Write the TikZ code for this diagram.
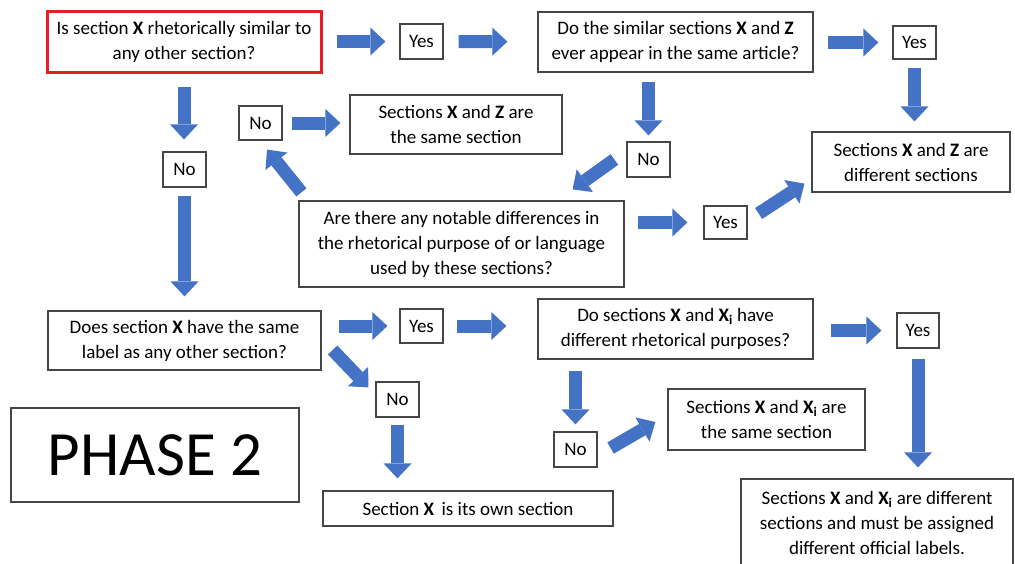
\documentclass[tikz,border=0pt]{standalone}
\usepackage{fontspec}
\setmainfont{Carlito}
\usetikzlibrary{arrows.meta,calc}
\definecolor{arrowblue}{RGB}{68,114,196}
\definecolor{boxred}{RGB}{232,30,36}
\definecolor{boxgray}{RGB}{70,70,70}
\tikzset{
  box/.style={draw=boxgray, line width=1.2pt, fill=white, inner sep=0pt, align=center,
    font=\fontsize{19}{25}\selectfont},
  barrow/.style={arrowblue, line width=13pt,
    -{Triangle[width=28pt,length=15pt,line width=0pt]}},
}
\newcommand{\B}[1]{\textbf{#1}}
\newcommand{\XXi}{\textbf{X\textsubscript{i}}}
\begin{document}
\begin{tikzpicture}[x=1pt,y=-1pt]
\clip (0,0) rectangle (1015,563);
\fill[white] (0,0) rectangle (1015,563);
% nodes
\node[box, draw=boxred, line width=3pt, minimum width=274pt, minimum height=61pt] (red) at (184,41.5)
  {Is section \B{X} rhetorically similar to\\any other section?};
\node[box, minimum width=43pt, minimum height=35pt] (yes1) at (421.5,41.5) {Yes};
\node[box, minimum width=275pt, minimum height=60pt] (box2) at (675.5,42)
  {Do the similar sections \B{X} and \B{Z}\\ever appear in the same article?};
\node[box, minimum width=43pt, minimum height=33pt] (yes2) at (914.5,42.5) {Yes};
\node[box, minimum width=198pt, minimum height=60pt] (diffZ) at (911,162)
  {Sections \B{X} and \B{Z} are\\different sections};
\node[box, minimum width=43pt, minimum height=35pt] (nom) at (648.5,159.5) {No};
\node[box, minimum width=325pt, minimum height=86pt] (are) at (461.5,244)
  {Are there any notable differences in\\the rhetorical purpose of or language\\used by these sections?};
\node[box, minimum width=43pt, minimum height=33pt] (yes3) at (725.5,222.5) {Yes};
\node[box, minimum width=43pt, minimum height=34pt] (nou) at (260.5,123) {No};
\node[box, minimum width=212pt, minimum height=59pt] (sameZ) at (456,124.5)
  {Sections \B{X} and \B{Z} are\\the same section};
\node[box, minimum width=43pt, minimum height=35pt] (nol) at (184.5,169.5) {No};
\node[box, minimum width=273pt, minimum height=59pt] (does) at (184.5,340.5)
  {Does section \B{X} have the same\\label as any other section?};
\node[box, minimum width=43pt, minimum height=34pt] (yes4) at (421.5,326) {Yes};
\node[box, minimum width=275pt, minimum height=60pt] (xi) at (675.5,329)
  {Do sections \B{X} and \XXi{} have\\different rhetorical purposes?};
\node[box, minimum width=42pt, minimum height=35pt] (yes5) at (918,330.5) {Yes};
\node[box, minimum width=272pt, minimum height=87pt] (diffXi) at (877,522.5)
  {Sections \B{X} and \XXi{} are different\\sections and must be assigned\\different official labels.};
\node[box, minimum width=43pt, minimum height=35pt] (nob) at (575.5,449.5) {No};
\node[box, minimum width=197pt, minimum height=61pt] (sameXi) at (766.5,419.5)
  {Sections \B{X} and \XXi{} are\\the same section};
\node[box, minimum width=43pt, minimum height=35pt] (nod) at (397.5,399.5) {No};
\node[box, minimum width=290pt, minimum height=35pt] (own) at (468,508.5)
  {Section \B{X}\, is its own section};
\node[box, minimum width=288pt, minimum height=94pt, font=\fontsize{63}{70}\selectfont] (phase) at (155,455)
  {PHASE 2};
% arrows
\draw[barrow, shorten <=14pt, shorten >=14pt] (red) -- (yes1);
\draw[barrow, shorten <=15pt, shorten >=30pt] (yes1) -- (box2);
\draw[barrow, shorten <=14pt, shorten >=14pt] (box2.east |- yes2) -- (yes2);
\draw[barrow, shorten <=8pt, shorten >=10pt] (yes2.south) -- (yes2.south |- diffZ.north);
\draw[barrow, shorten <=9pt, shorten >=6pt] (box2.south -| nom) -- (nom.north);
\draw[barrow] ($(nom.west)+(-12,0)$) -- ($(are.north east)+(-52,-11)$);
\draw[barrow, shorten <=13pt, shorten >=16pt] (are.east |- yes3) -- (yes3.west);
\draw[barrow] ($(yes3.east)+(11,-9)$) -- ($(diffZ.south west)+(-7,-9)$);
\draw[barrow] ($(are.north west)+(3,-8)$) -- ($(nou.south)+(6.5,9)$);
\draw[barrow, shorten <=9pt, shorten >=9pt] (nou) -- (nou -| sameZ.west);
\draw[barrow, shorten <=13pt, shorten >=12pt] (red.south) -- (red.south |- nol.north);
\draw[barrow, shorten <=8pt, shorten >=14pt] (nol.south) -- (nol.south |- does.north);
\draw[barrow, shorten <=17pt, shorten >=12pt] (does.east |- yes4) -- (yes4.west);
\draw[barrow, shorten <=13pt, shorten >=31pt] (yes4.east) -- (yes4.east -| xi.west);
\draw[barrow, shorten <=17pt, shorten >=15pt] (xi.east |- yes5) -- (yes5.west);
\draw[barrow, shorten <=10pt, shorten >=11pt] (yes5.south) -- (yes5.south |- diffXi.north);
\draw[barrow, shorten <=11pt, shorten >=7pt] (xi.south -| nob) -- (nob.north);
\draw[barrow] ($(nob.east)+(13,-1.5)$) -- ($(sameXi.west)+(-12,2.5)$);
\draw[barrow] ($(does.east)+(11,9.5)$) -- ($(nod.north west)+(-7,6)$);
\draw[barrow, shorten <=7pt, shorten >=12pt] (nod.south) -- (nod.south |- own.north);
\end{tikzpicture}
\end{document}
